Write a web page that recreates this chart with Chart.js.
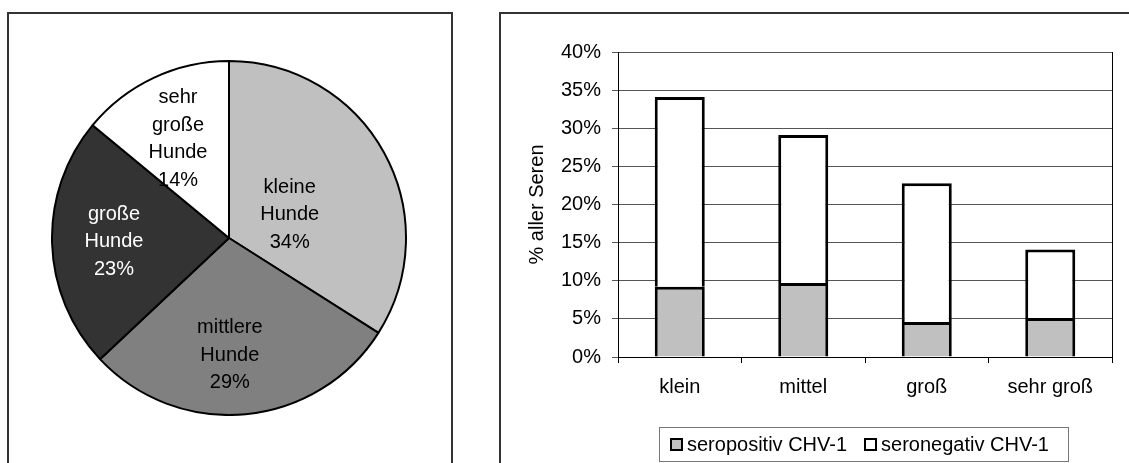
<!DOCTYPE html>
<html lang="de">

<head>
    <meta charset="UTF-8">
    <title>Hundegröße und CHV-1</title>

    <script src="https://cdn.jsdelivr.net/npm/chart.js"></script>

    <style>
        body {
            margin: 0;
            width: 1129px;
            height: 463px;
            overflow: hidden;
            background: #fff;
            position: relative;
            font-family: "Liberation Sans", Arial, sans-serif;
        }

        .rahmen {
            position: absolute;
            box-sizing: border-box;
            border: 2px solid #333;
            background: #fff;
        }

        .box-chart {
            position: absolute;
        }

        #legende {
            position: absolute;
            left: 659px;
            top: 427px;
            width: 410px;
            height: 35px;
            box-sizing: border-box;
            border: 1px solid #777;
            display: flex;
            align-items: center;
            padding-left: 10px;
            font-size: 20px;
            color: #000;
            white-space: nowrap;
        }

        #legende .item {
            display: flex;
            align-items: center;
            margin-right: 17px;
        }

        #legende .quadrat {
            width: 13px;
            height: 13px;
            box-sizing: border-box;
            border: 2px solid #000;
            margin-right: 4px;
        }
    </style>
</head>

<body>

    <div class="rahmen" style="left: 7px; top: 12px; width: 446px; height: 500px;"></div>
    <div class="rahmen" style="left: 499px; top: 12px; width: 700px; height: 500px;"></div>

    <div class="box-chart" style="left: 51px; top: 60px; width: 356px; height: 356px;">
        <canvas id="kreisChart"></canvas>
    </div>

    <div class="box-chart" style="left: 500px; top: 13px; width: 629px; height: 450px;">
        <canvas id="balkenChart"></canvas>
    </div>

    <div id="legende"></div>

</body>

</html>

<script>

    // dados do gráfico de pizza
    var kategorienKreis = ['kleine Hunde', 'mittlere Hunde', 'große Hunde', 'sehr große Hunde'];
    var anteileKreis = [34, 29, 23, 14];

    // dados do gráfico de barras (% aller Seren)
    var kategorienBalken = ['klein', 'mittel', 'groß', 'sehr groß'];
    var seropositiv = [9.2, 9.7, 4.6, 5.1];
    var seronegativ = [24.9, 19.4, 18.2, 9.0];
    var serienNamen = ['seropositiv CHV-1', 'seronegativ CHV-1'];
    var yTicks = [0, 5, 10, 15, 20, 25, 30, 35, 40];

    Chart.defaults.font.family = '"Liberation Sans", Arial, sans-serif';
    Chart.defaults.font.size = 20;
    Chart.defaults.color = '#000';

    // escreve os rótulos dentro das fatias
    const rotulosKreis = {
        id: 'rotulosKreis',
        afterDraw(chart, args, opts) {
            const ctx = chart.ctx;
            const meta = chart.getDatasetMeta(0);
            const daten = chart.data.datasets[0].data;
            const summe = daten.reduce((a, b) => a + b, 0);
            ctx.save();
            ctx.font = '20px "Liberation Sans", Arial, sans-serif';
            ctx.textAlign = 'center';
            ctx.textBaseline = 'middle';
            meta.data.forEach(function (arc, i) {
                const p = arc.getProps(['x', 'y', 'startAngle', 'endAngle', 'outerRadius'], true);
                // meio da fatia + pequeno ajuste como no Excel
                const mitte = (p.startAngle + p.endAngle) / 2 + opts.winkel[i] * Math.PI / 180;
                const r = p.outerRadius * opts.abstand[i];
                const cx = p.x + Math.cos(mitte) * r;
                const cy = p.y + Math.sin(mitte) * r;
                const zeilen = chart.data.labels[i].split(' ');
                zeilen.push(Math.round(daten[i] / summe * 100) + '%');
                const h = opts.zeilenabstand;
                const start = cy - (zeilen.length - 1) * h / 2;
                ctx.fillStyle = opts.farben[i];
                zeilen.forEach(function (z, k) {
                    ctx.fillText(z, cx, start + k * h);
                });
            });
            ctx.restore();
        }
    };

    new Chart(document.getElementById('kreisChart'), {
        type: 'pie',
        data: {
            labels: kategorienKreis,
            datasets: [{
                data: anteileKreis,
                backgroundColor: ['#c0c0c0', '#808080', '#333333', '#ffffff'],
                borderColor: '#000',
                borderWidth: 2
            }]
        },
        options: {
            responsive: true,
            maintainAspectRatio: false,
            animation: false,
            layout: { padding: 0 },
            plugins: {
                legend: { display: false },
                tooltip: { enabled: false },
                rotulosKreis: {
                    abstand: [0.367, 0.661, 0.65, 0.63],
                    winkel: [8, 5, 0, -2],
                    farben: ['#000', '#000', '#fff', '#000'],
                    zeilenabstand: 27.5
                }
            }
        },
        plugins: [rotulosKreis]
    });

    // borda direita da área do gráfico
    const rahmenRechts = {
        id: 'rahmenRechts',
        beforeDatasetsDraw(chart) {
            const a = chart.chartArea;
            const ctx = chart.ctx;
            ctx.save();
            ctx.strokeStyle = '#000';
            ctx.lineWidth = 1;
            ctx.beginPath();
            ctx.moveTo(Math.round(a.right) + 0.5, a.top);
            ctx.lineTo(Math.round(a.right) + 0.5, a.bottom);
            ctx.stroke();
            ctx.restore();
        }
    };

    let balken = new Chart(document.getElementById('balkenChart'), {
        type: 'bar',
        data: {
            labels: kategorienBalken,
            datasets: [
                {
                    label: serienNamen[0],
                    data: seropositiv,
                    backgroundColor: '#c0c0c0',
                    borderColor: '#000',
                    borderWidth: 3,
                    barPercentage: 0.405,
                    categoryPercentage: 1
                },
                {
                    label: serienNamen[1],
                    data: seronegativ,
                    backgroundColor: '#ffffff',
                    borderColor: '#000',
                    borderWidth: 3,
                    barPercentage: 0.405,
                    categoryPercentage: 1
                }
            ]
        },
        options: {
            responsive: true,
            maintainAspectRatio: false,
            animation: false,
            layout: { padding: { top: 39, right: 17, left: 0, bottom: 0 } },
            scales: {
                x: {
                    stacked: true,
                    grid: {
                        offset: true,
                        drawOnChartArea: false,
                        drawTicks: true,
                        tickLength: 6,
                        color: '#000'
                    },
                    border: { color: '#000' },
                    ticks: { padding: 12, maxRotation: 0 },
                    afterFit: function (s) { s.height = 106; }
                },
                y: {
                    stacked: true,
                    min: 0,
                    max: 40,
                    afterBuildTicks: function (s) {
                        s.ticks = yTicks.map(function (v) { return { value: v }; });
                    },
                    ticks: {
                        padding: 11,
                        callback: function (v) { return v + '%'; }
                    },
                    grid: {
                        color: '#555',
                        tickLength: 6,
                        drawTicks: true
                    },
                    border: { color: '#000' },
                    title: {
                        display: true,
                        text: '% aller Seren',
                        padding: { top: 25, bottom: 0 }
                    },
                    afterFit: function (s) { s.width = 118; }
                }
            },
            plugins: {
                legend: { display: false },
                tooltip: { enabled: false }
            }
        },
        plugins: [rahmenRechts]
    });

    // legenda em HTML com base nos datasets
    var legende = document.getElementById('legende');
    balken.data.datasets.forEach(function (ds) {
        var item = document.createElement('div');
        item.className = 'item';
        var q = document.createElement('div');
        q.className = 'quadrat';
        q.style.background = ds.backgroundColor;
        var t = document.createElement('span');
        t.textContent = ds.label;
        item.appendChild(q);
        item.appendChild(t);
        legende.appendChild(item);
    });

</script>
